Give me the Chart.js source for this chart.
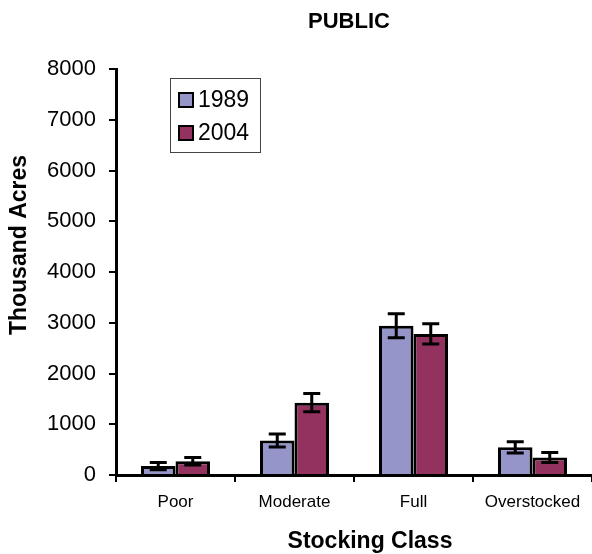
<!DOCTYPE html>
<html>
<head>
<meta charset="utf-8">
<script src="https://cdn.jsdelivr.net/npm/chart.js@4"></script>
<style>html,body{margin:0;padding:0;background:#fff}</style>
</head>
<body>
<div style="width:592px;height:554px"><canvas id="chart"></canvas></div>
<script>
'use strict';

var categories = ['Poor', 'Moderate', 'Full', 'Overstocked'];
var seriesNames = ['1989', '2004'];
var values1989 = [175, 680, 2940, 545];
var values2004 = [270, 1425, 2780, 345];
var errors1989 = [70, 130, 235, 110];
var errors2004 = [75, 180, 200, 100];
var yTicks = [0, 1000, 2000, 3000, 4000, 5000, 6000, 7000, 8000];

var FONT = '"Liberation Sans", Arial, sans-serif';
Chart.defaults.font.family = FONT;
Chart.defaults.color = '#000';

// error bars, placed with the y scale
var errorBars = {
  id: 'errorBars',
  afterDatasetsDraw(chart) {
    var ctx = chart.ctx, y = chart.scales.y;
    ctx.save();
    ctx.strokeStyle = '#000';
    ctx.lineWidth = 3;
    chart.data.datasets.forEach((ds, i) => {
      chart.getDatasetMeta(i).data.forEach((bar, j) => {
        var top = y.getPixelForValue(ds.data[j] + ds.errors[j]);
        var bot = y.getPixelForValue(ds.data[j] - ds.errors[j]);
        ctx.beginPath();
        ctx.moveTo(bar.x, top); ctx.lineTo(bar.x, bot);
        ctx.moveTo(bar.x - 8.5, top); ctx.lineTo(bar.x + 8.5, top);
        ctx.moveTo(bar.x - 8.5, bot); ctx.lineTo(bar.x + 8.5, bot);
        ctx.stroke();
      });
    });
    ctx.restore();
  }
};

// titles and the boxed legend inside the plot
var decorations = {
  id: 'decorations',
  afterDraw(chart) {
    var ctx = chart.ctx;
    ctx.save();
    ctx.fillStyle = '#000';
    ctx.textAlign = 'center';
    ctx.textBaseline = 'middle';
    ctx.font = 'bold 22px ' + FONT;
    ctx.fillText('PUBLIC', 349, 22);
    ctx.font = 'bold 23px ' + FONT;
    ctx.fillText('Stocking Class', 370, 542);
    ctx.translate(20, 245);
    ctx.rotate(-Math.PI / 2);
    ctx.fillText('Thousand Acres', 0, 0);
    ctx.restore();

    ctx.save();
    ctx.strokeStyle = '#444';
    ctx.lineWidth = 1;
    ctx.strokeRect(170.5, 78.5, 90, 74);
    ctx.font = '23px ' + FONT;
    ctx.textBaseline = 'middle';
    chart.data.datasets.forEach((ds, i) => {
      var cy = 100 + i * 33;
      ctx.fillStyle = ds.backgroundColor;
      ctx.fillRect(179, cy - 7, 14, 14);
      ctx.strokeStyle = '#000';
      ctx.lineWidth = 2;
      ctx.strokeRect(179, cy - 7, 14, 14);
      ctx.fillStyle = '#000';
      ctx.fillText(ds.label, 198, cy + 1);
    });
    ctx.restore();
  }
};

new Chart(document.getElementById('chart'), {
  type: 'bar',
  data: {
    labels: categories,
    datasets: [{
      label: seriesNames[0],
      data: values1989,
      errors: errors1989,
      backgroundColor: '#9595C9',
      borderColor: '#000',
      borderWidth: 3
    }, {
      label: seriesNames[1],
      data: values2004,
      errors: errors2004,
      backgroundColor: '#93325F',
      borderColor: '#000',
      borderWidth: 3
    }]
  },
  options: {
    responsive: true,
    maintainAspectRatio: false,
    animation: false,
    layout: {padding: {top: 69, right: 0, bottom: 0, left: 0}},
    datasets: {bar: {categoryPercentage: 0.58, barPercentage: 1}},
    plugins: {legend: {display: false}, tooltip: {enabled: false}},
    scales: {
      x: {
        afterFit: (s) => { s.height = 79; },
        grid: {drawOnChartArea: false, color: '#000', lineWidth: 2, tickLength: 7},
        border: {color: '#000', width: 3},
        ticks: {font: {size: 17}, padding: 10, maxRotation: 0}
      },
      y: {
        min: yTicks[0],
        max: yTicks[yTicks.length - 1],
        afterFit: (s) => { s.width = 116; },
        afterBuildTicks: (s) => { s.ticks = yTicks.map((v) => ({value: v})); },
        grid: {drawOnChartArea: false, color: '#000', lineWidth: 2, tickLength: 7},
        border: {color: '#000', width: 3},
        ticks: {font: {size: 22}, padding: 13, callback: (v) => String(v)}
      }
    }
  },
  plugins: [errorBars, decorations]
});
</script>
</body>
</html>
